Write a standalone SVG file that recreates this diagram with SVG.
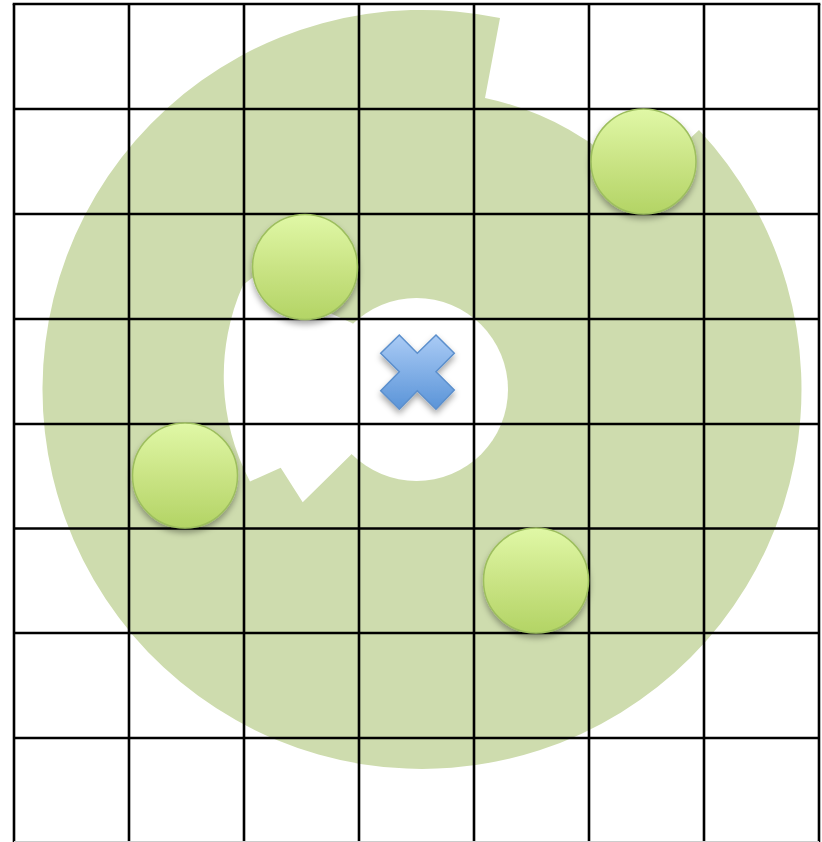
<svg xmlns="http://www.w3.org/2000/svg" width="822" height="842" viewBox="0 0 822 842">
  <style>
    .grid { stroke: #000; stroke-width: 2.6; fill: none; }
    .ball { fill: url(#ballGrad); stroke: #9DBE5E; stroke-width: 1.5; filter: url(#shadow); }
  </style>
  <defs>
    <linearGradient id="ballGrad" x1="0" y1="0" x2="0" y2="1">
      <stop offset="0" stop-color="#E0F8A6"/>
      <stop offset="0.5" stop-color="#CAE485"/>
      <stop offset="1" stop-color="#B3D465"/>
    </linearGradient>
    <linearGradient id="xGrad" x1="0" y1="0" x2="0" y2="1">
      <stop offset="0" stop-color="#AACBF5"/>
      <stop offset="1" stop-color="#5A94D8"/>
    </linearGradient>
    <filter id="shadow" x="-30%" y="-30%" width="160%" height="170%">
      <feDropShadow dx="0" dy="4" stdDeviation="3" flood-color="#000" flood-opacity="0.35"/>
    </filter>
  </defs>
  <rect x="0" y="0" width="822" height="842" fill="#fff"/>

  <g id="area">
    <path d="M 699,130 A 379.5 379.5 0 1 1 500,18 L 485,98 A 299 299 0 0 1 640,185 Z" fill="#CEDCAE"/>
    <circle cx="416.5" cy="389.5" r="91.5" fill="#fff"/>
    <path d="M 352,323 L 252,278 L 243,285 A 225 225 0 0 0 250,481.5 L 280.7,467.7 L 302.7,502.3 L 351.7,454 L 380,430 L 380,345 Z" fill="#fff"/>
  </g>

  <g id="grid">
    <line class="grid" x1="14" y1="4" x2="14" y2="842"/>
    <line class="grid" x1="129" y1="4" x2="129" y2="842"/>
    <line class="grid" x1="244" y1="4" x2="244" y2="842"/>
    <line class="grid" x1="359" y1="4" x2="359" y2="842"/>
    <line class="grid" x1="474" y1="4" x2="474" y2="842"/>
    <line class="grid" x1="589" y1="4" x2="589" y2="842"/>
    <line class="grid" x1="704" y1="4" x2="704" y2="842"/>
    <line class="grid" x1="819" y1="4" x2="819" y2="842"/>
    <line class="grid" x1="12.7" y1="4" x2="820.3" y2="4"/>
    <line class="grid" x1="14" y1="109" x2="819" y2="109"/>
    <line class="grid" x1="14" y1="214" x2="819" y2="214"/>
    <line class="grid" x1="14" y1="319" x2="819" y2="319"/>
    <line class="grid" x1="14" y1="424" x2="819" y2="424"/>
    <line class="grid" x1="14" y1="528.5" x2="819" y2="528.5"/>
    <line class="grid" x1="14" y1="633" x2="819" y2="633"/>
    <line class="grid" x1="14" y1="738" x2="819" y2="738"/>
    <line x1="14" y1="841.5" x2="819" y2="841.5" stroke="#CCCCCC" stroke-width="1"/>
  </g>

  <g id="ball1"><circle class="ball" cx="305" cy="267" r="52.5"/></g>
  <g id="ball2"><circle class="ball" cx="643.5" cy="161.5" r="52.5"/></g>
  <g id="ball3"><circle class="ball" cx="185" cy="475.5" r="52.5"/></g>
  <g id="ball4"><circle class="ball" cx="536" cy="580.5" r="52.5"/></g>

  <g id="cross">
    <polygon points="399.3,335 417.3,353.3 436,335 454.3,353.3 436,371.7 454.3,390 436,409.3 417.3,390.7 399.3,409.3 380.7,390.7 399.3,371.7 380.7,353.3" fill="url(#xGrad)" stroke="#5B8FCC" stroke-width="1.5" stroke-linejoin="miter" filter="url(#shadow)"/>
  </g>
</svg>
